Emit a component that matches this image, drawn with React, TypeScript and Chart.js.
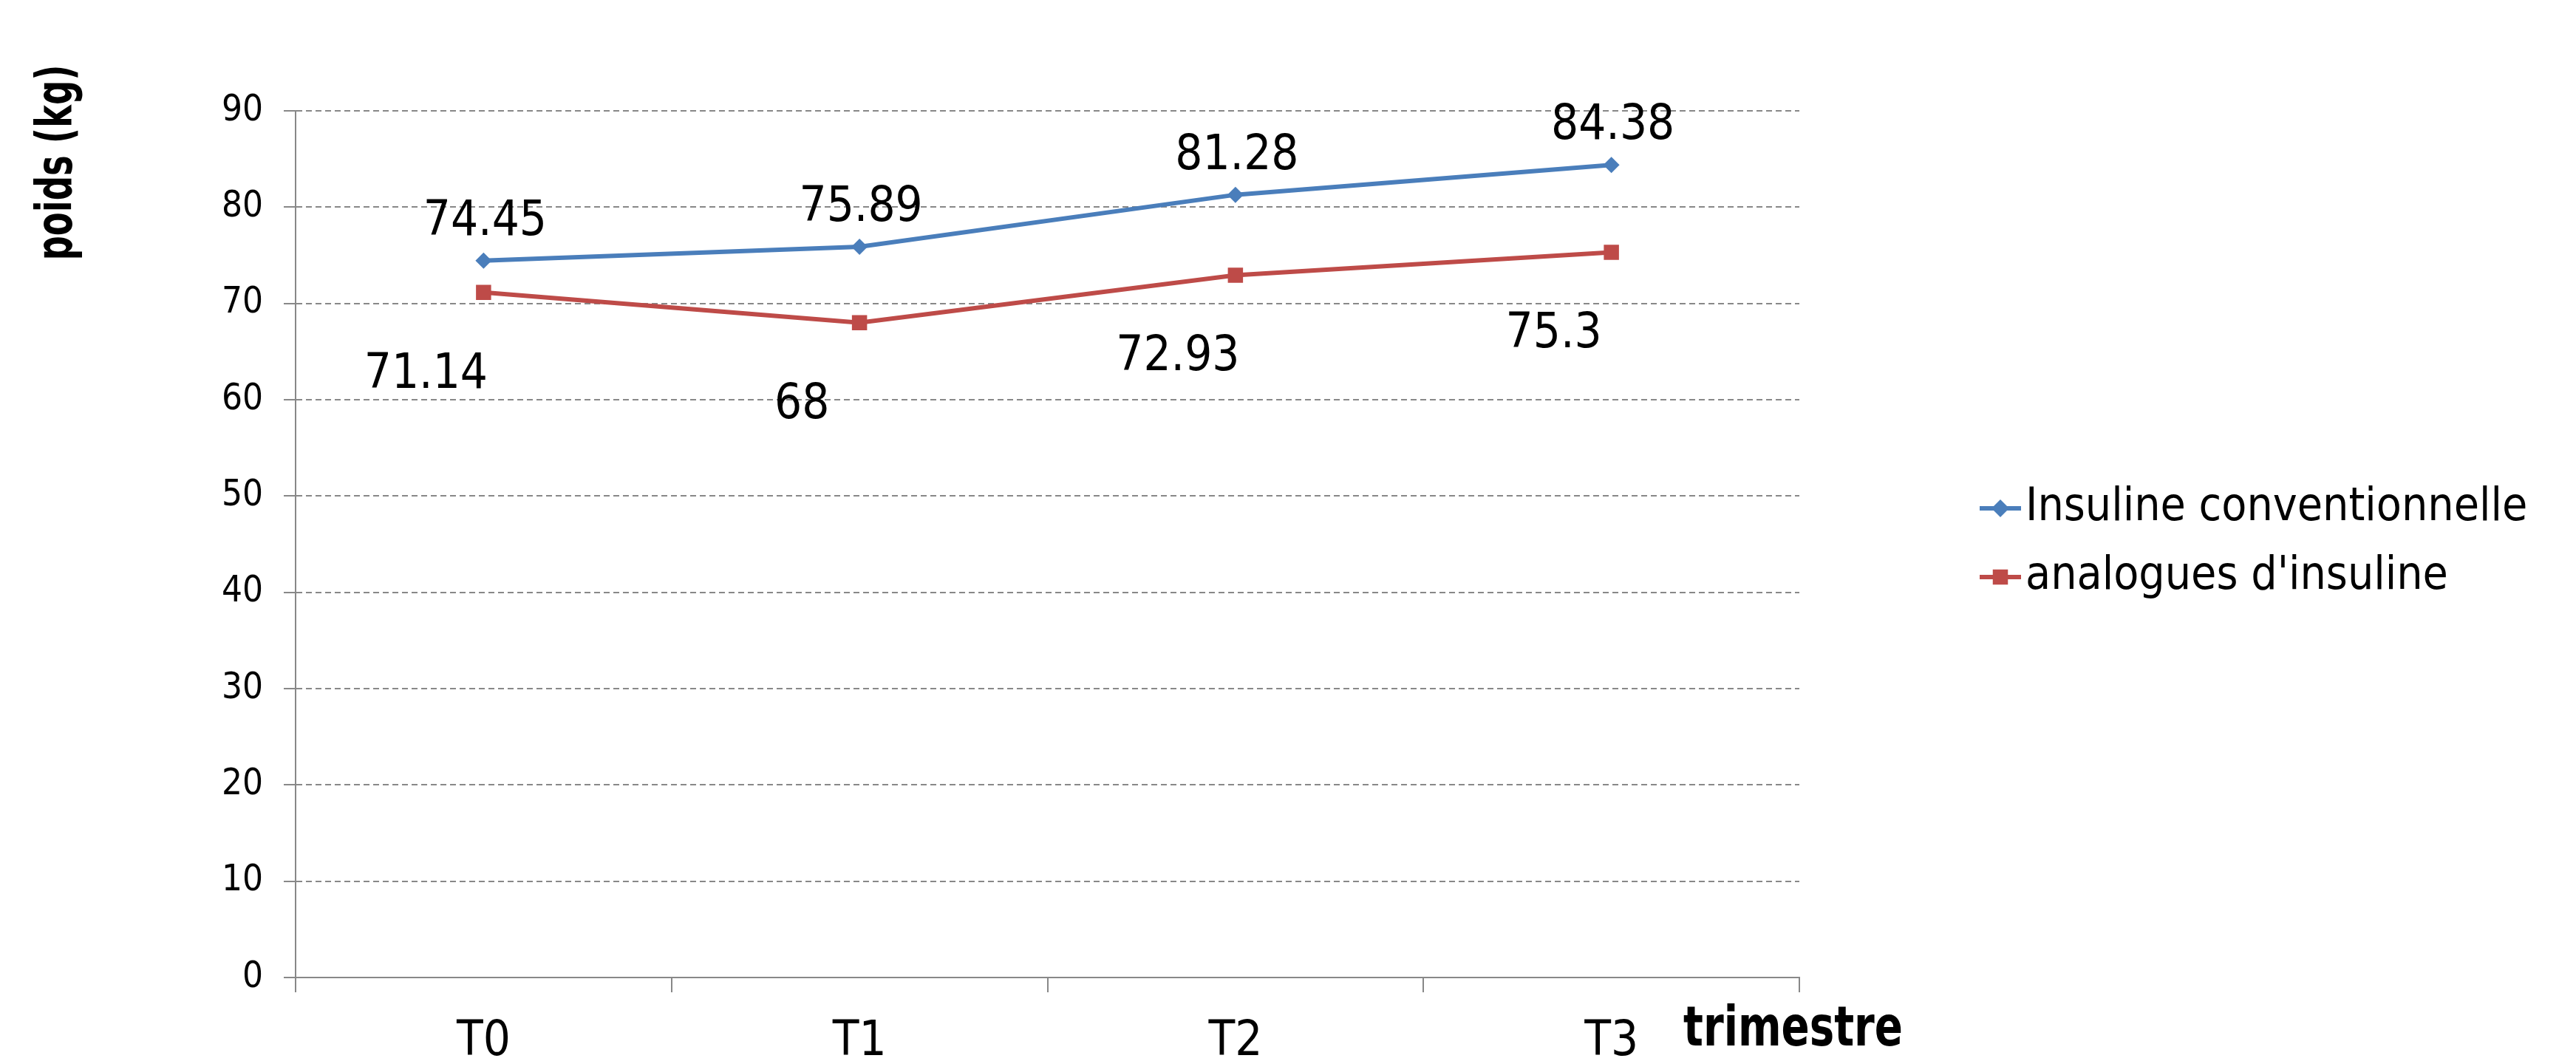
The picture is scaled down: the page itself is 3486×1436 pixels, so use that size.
import React, { useEffect, useRef } from 'react';
import { Chart, registerables } from 'chart.js';

Chart.register(...registerables);

// ---- data ----
const categories = ['T0', 'T1', 'T2', 'T3'];
const seriesNames = ['Insuline conventionnelle', "analogues d'insuline"];
const conventionnelle = [74.45, 75.89, 81.28, 84.38];
const analogues = [71.14, 68, 72.93, 75.3];
const yMin = 0;
const yMax = 90;
const yStep = 10;
const yTitle = 'poids (kg)';
const xTitle = 'trimestre';

// ---- style ----
const W = 3486;
const H = 1436;
const FONT = "'DejaVu Sans Condensed', 'DejaVu Sans', sans-serif";
const BLUE = '#4A7EBB';
const RED = '#BE4B48';
const GRID = '#888888';

const decorPlugin = {
  id: 'decor',
  afterDraw(chart: any, _args: any, opts: any) {
    const ctx: CanvasRenderingContext2D = chart.ctx;
    ctx.save();

    // data labels
    chart.data.datasets.forEach((ds: any, i: number) => {
      const meta = chart.getDatasetMeta(i);
      const off = opts.labelOffsets[i];
      ctx.font = `${opts.labelSize}px ${FONT}`;
      ctx.fillStyle = '#000';
      ctx.textAlign = 'center';
      ctx.textBaseline = 'middle';
      meta.data.forEach((pt: any, j: number) => {
        ctx.fillText(String(ds.data[j]), pt.x + off.dx, pt.y + off.dy);
      });
    });

    // legend
    const lg = opts.legend;
    chart.data.datasets.forEach((ds: any, i: number) => {
      const y = lg.y + i * lg.rowGap;
      ctx.strokeStyle = ds.borderColor;
      ctx.lineWidth = ds.borderWidth;
      ctx.beginPath();
      ctx.moveTo(lg.x, y);
      ctx.lineTo(lg.x + lg.lineLen, y);
      ctx.stroke();
      const cx = lg.x + lg.lineLen / 2;
      ctx.fillStyle = ds.borderColor;
      ctx.beginPath();
      if (ds.pointStyle === 'rectRot') {
        const r = ds.pointRadius + 1;
        ctx.moveTo(cx - r, y);
        ctx.lineTo(cx, y - r);
        ctx.lineTo(cx + r, y);
        ctx.lineTo(cx, y + r);
        ctx.closePath();
      } else {
        const s = ds.pointRadius * Math.SQRT1_2;
        ctx.rect(cx - s, y - s, 2 * s, 2 * s);
      }
      ctx.fill();
      ctx.fillStyle = '#000';
      ctx.font = `${lg.size}px ${FONT}`;
      ctx.textAlign = 'left';
      ctx.textBaseline = 'middle';
      ctx.fillText(ds.label, lg.x + lg.lineLen + lg.textGap, y);
    });

    // y title (rotated)
    const yt = opts.yTitle;
    ctx.save();
    ctx.font = `bold ${yt.size}px ${FONT}`;
    ctx.fillStyle = '#000';
    ctx.textAlign = 'center';
    ctx.textBaseline = 'alphabetic';
    const wy = ctx.measureText(yt.text).width;
    ctx.translate(yt.x, yt.y);
    ctx.rotate(-Math.PI / 2);
    ctx.scale(yt.length / wy, 1);
    ctx.fillText(yt.text, 0, 0);
    ctx.restore();

    // x title
    const xt = opts.xTitle;
    ctx.save();
    ctx.font = `bold ${xt.size}px ${FONT}`;
    ctx.fillStyle = '#000';
    ctx.textAlign = 'left';
    ctx.textBaseline = 'alphabetic';
    const wx = ctx.measureText(xt.text).width;
    ctx.translate(xt.x, xt.y);
    ctx.scale(xt.length / wx, 1);
    ctx.fillText(xt.text, 0, 0);
    ctx.restore();

    ctx.restore();
  },
};

export default function App() {
  const ref = useRef<HTMLCanvasElement | null>(null);

  useEffect(() => {
    if (!ref.current) return;
    const chart = new Chart(ref.current, {
      type: 'line',
      data: {
        labels: categories,
        datasets: [
          {
            label: seriesNames[0],
            data: conventionnelle,
            borderColor: BLUE,
            backgroundColor: BLUE,
            borderWidth: 6,
            pointStyle: 'rectRot',
            pointRadius: 11,
            pointBorderWidth: 0,
            pointBackgroundColor: BLUE,
            tension: 0,
          },
          {
            label: seriesNames[1],
            data: analogues,
            borderColor: RED,
            backgroundColor: RED,
            borderWidth: 6,
            pointStyle: 'rect',
            pointRadius: 14.5,
            pointBorderWidth: 0,
            pointBackgroundColor: RED,
            tension: 0,
          },
        ],
      },
      options: {
        animation: false,
        responsive: false,
        devicePixelRatio: 1,
        layout: { padding: { left: 0, top: 150, right: W - 2435, bottom: 0 } },
        plugins: {
          legend: { display: false },
          tooltip: { enabled: false },
          decor: {
            labelSize: 65,
            labelOffsets: [
              { dx: 2, dy: -52 },
              { dx: -78, dy: 112 },
            ],
            legend: { x: 2679, y: 688, rowGap: 93, lineLen: 56, textGap: 6, size: 62 },
            yTitle: { text: yTitle, x: 97, y: 220, size: 67, length: 265 },
            xTitle: { text: xTitle, x: 2278, y: 1415, size: 75, length: 297 },
          },
        } as any,
        scales: {
          x: {
            type: 'category',
            offset: true,
            grid: {
              offset: true,
              drawOnChartArea: false,
              drawTicks: true,
              tickLength: 20,
              tickColor: GRID,
              tickWidth: 2,
              color: GRID,
              lineWidth: 2,
            },
            border: { display: true, color: GRID, width: 2 },
            ticks: {
              color: '#000',
              font: { family: FONT, size: 65, lineHeight: 1.2 },
              padding: 29,
              autoSkip: false,
              maxRotation: 0,
              minRotation: 0,
            },
            afterFit: (s: any) => {
              s.height = 113;
            },
          },
          y: {
            min: yMin,
            max: yMax,
            ticks: {
              stepSize: yStep,
              color: '#000',
              font: { family: FONT, size: 49 },
              padding: 28,
            },
            grid: {
              color: GRID,
              lineWidth: 2,
              drawTicks: true,
              tickLength: 16,
              tickColor: GRID,
              tickWidth: 2,
            },
            border: { display: true, color: GRID, width: 2, dash: [8, 5] },
            afterFit: (s: any) => {
              s.width = 400;
            },
          },
        },
      },
      plugins: [decorPlugin],
    } as any);
    return () => chart.destroy();
  }, []);

  return (
    <div style={{ position: 'fixed', left: 0, top: 0, width: W, height: H, background: '#fff' }}>
      <canvas ref={ref} width={W} height={H} style={{ width: W, height: H, display: 'block' }} />
    </div>
  );
}
